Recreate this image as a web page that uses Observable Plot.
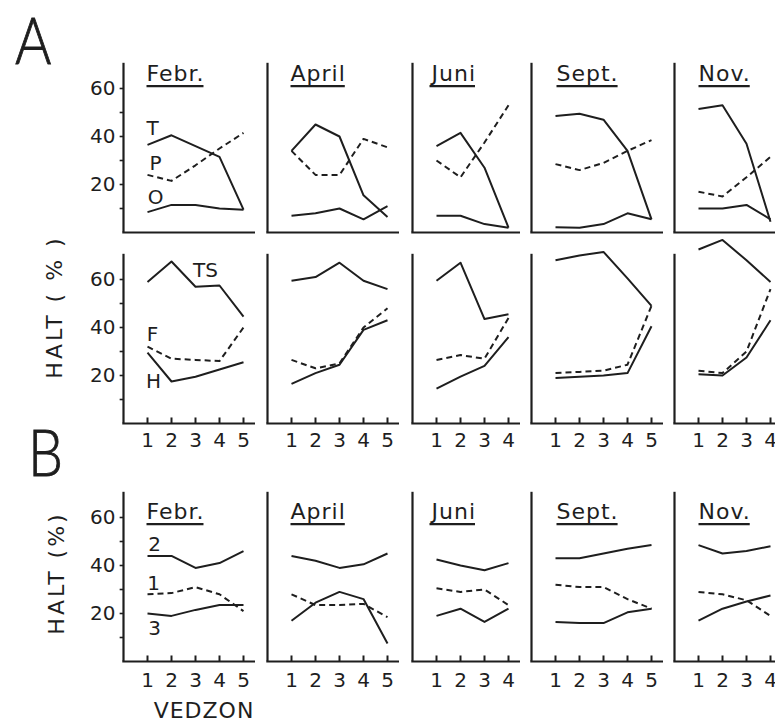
<!DOCTYPE html>
<html><head><meta charset="utf-8">
<script src="https://cdn.jsdelivr.net/npm/d3@7"></script>
<script src="https://cdn.jsdelivr.net/npm/@observablehq/plot@0.6"></script>
<style>
html,body{margin:0;padding:0;background:#fff;overflow:hidden;}
#fig{position:relative;width:775px;height:723px;overflow:hidden;font-family:"DejaVu Sans",sans-serif;color:#1e1e1e;background:#fff;}
.panel{position:absolute;}
.panel svg{overflow:visible;max-width:none;}
.big{position:absolute;font-family:Lato,"DejaVu Sans",sans-serif;font-weight:300;font-size:66px;line-height:66px;width:60px;height:70px;transform-origin:left top;transform:scaleX(0.84);-webkit-text-stroke:0.9px #1e1e1e;}
.ylab{position:absolute;font-size:22px;white-space:nowrap;transform:translate(-50%,-50%) rotate(-90deg);}
.xlab{position:absolute;font-size:22px;line-height:18px;letter-spacing:1px;white-space:nowrap;transform:translate(-50%,-50%);}
</style></head><body><div id="fig"></div>
<script>
// ---- data (values in % per zone) ----
const months = ["Febr.", "April", "Juni", "Sept.", "Nov."];
const zoneCounts = [5, 5, 4, 5, 4];
const yTickValues = [10, 20, 30, 40, 50, 60];
const yTickLabels = [20, 40, 60];
// Panel A, upper row
const T  = [[36.5,40.5,36,31.5,9.5],[34,45,40,15.5,6.5],[36,41.5,27,2],[48.5,49.5,47,34,5.5],[51.5,53,37,4.5]];
const P  = [[24,21.5,28,35,41.5],[34,24,24,39,35.5],[30,23,37.5,53],[28.5,26,29,34,38.5],[17,15,23,31.5]];
const O  = [[8.5,11.5,11.5,10,9.5],[7,8,10,5.5,11],[7,7,3.5,2],[2.2,2,3.5,8,5.5],[10,10,11.5,5.5]];
// Panel A, lower row
const TS = [[59,67.5,57,57.5,44.5],[59.5,61,67,59.5,56],[59.5,67,43.5,45.5],[68,70,71.5,60.5,49],[72.5,76.5,68,59]];
const F  = [[32,27,26.5,26,40],[26.5,23,25,40,48],[26.5,28.5,27,44],[21,21.5,22,24.5,49],[22,21,30,56]];
const H  = [[29.5,17.5,19.5,22.5,25.5],[16.5,21,24.5,39,43],[14.5,19.5,24,36],[19,19.5,20,21,40.5],[20.5,20,27.5,43]];
// Panel B
const S2 = [[44,44,39,41,46],[44,42,39,40.5,45],[42.5,40,38,41],[43,43,45,47,48.5],[48.5,45,46,48]];
const S1 = [[28,28.5,31,28,21],[28,23.5,23.5,24,18.5],[30.5,29,30,23.5],[32,31,31,26,22],[29,28,25.5,19]];
const S3 = [[20,19,21.5,23.5,23.5],[17,24.5,29,26,7.5],[19,22,16.5,22],[16.5,16,16,20.5,22],[17,22,25,27.5]];

// ---- layout ----
const ink = "#1e1e1e";
const panelLeft = [123, 267, 412, 531, 674];
const titleDx = [23, 23, 19, 25, 24];
const rows = [
  {zeroY: 232, title: true, titleDy: 1, xTicks: false, labDy: 0,
   series: [{name: "T", data: T, lab: [0, 5, -16]}, {name: "P", data: P, dash: true, lab: [0, 8, -11]}, {name: "O", data: O, lab: [0, 8, -15]}]},
  {zeroY: 423, title: false, xTicks: true, labDy: 17,
   series: [{name: "TS", data: TS, lab: [2, 10, -16]}, {name: "F", data: F, dash: true, lab: [0, 5, -12]}, {name: "H", data: H, lab: [0, 6, 29]}]},
  {zeroY: 661, title: true, titleDy: 10, xTicks: true, labDy: 19,
   series: [{name: "2", data: S2, lab: [0, 7, -11]}, {name: "1", data: S1, dash: true, lab: [0, 6, -11]}, {name: "3", data: S3, lab: [0, 7, 15]}]}
];

const fig = document.getElementById("fig");
const ML = 45, MR = 4, MT = 30, MB = 36, PX = 24, PY = 2.4, YMAX = 70;

function panel(row, m) {
  const n = zoneCounts[m];
  const zones = d3.range(1, n + 1);
  const xmax = m === 2 ? 4.5 : 5.5;
  const width = ML + MR + xmax * PX;
  const height = MT + MB + YMAX * PY;
  const marks = [
    Plot.ruleX([0], {x: d => d, y1: () => 0, y2: () => 70.5, stroke: ink, strokeWidth: 2.2}),
    Plot.ruleY([0], {y: d => d, x1: () => -0.03, x2: () => xmax, stroke: ink, strokeWidth: 2.2})
  ];
  if (m === 0) {
    marks.push(Plot.ruleY(yTickValues, {y: d => d, x1: () => -0.14, x2: () => 0, stroke: ink, strokeWidth: 1.6}));
    marks.push(Plot.text(yTickLabels, {x: () => 0, y: d => d, text: d => String(d), textAnchor: "end", dx: -8, fontSize: 20}));
  }
  if (row.xTicks) {
    marks.push(Plot.ruleX(zones, {x: d => d, y1: () => 0, y2: () => 2.3, stroke: ink, strokeWidth: 2}));
    marks.push(Plot.text(zones, {x: d => d, y: () => 0, dy: row.labDy, text: d => String(d), fontSize: 20}));
  }
  for (const s of row.series) {
    const pts = zones.map((z, i) => ({zone: z, value: s.data[m][i]}));
    marks.push(Plot.line(pts, {x: "zone", y: "value", stroke: ink, strokeWidth: 2,
      strokeDasharray: s.dash ? "6,4" : null, strokeLinejoin: "round", strokeLinecap: "butt"}));
    if (m === 0) {
      const [k, dx, dy] = s.lab;
      marks.push(Plot.text([pts[k]], {x: "zone", y: "value", text: () => s.name, dx, dy, fontSize: 20}));
    }
  }
  if (row.title) {
    marks.push(Plot.text([months[m]], {frameAnchor: "top-left", text: d => d, dx: titleDx[m], dy: row.titleDy,
      textAnchor: "start", lineAnchor: "top", fontSize: 22}));
  }
  const svg = Plot.plot({
    width, height, marginLeft: ML, marginRight: MR, marginTop: MT, marginBottom: MB,
    x: {domain: [0, xmax], axis: null},
    y: {domain: [0, YMAX], axis: null},
    style: {background: "transparent", overflow: "visible", color: ink, fontFamily: "DejaVu Sans, sans-serif", fontSize: "20px", maxWidth: "none"},
    marks
  });
  const div = document.createElement("div");
  div.className = "panel";
  div.style.left = (panelLeft[m] - ML) + "px";
  div.style.top = (row.zeroY - YMAX * PY - MT) + "px";
  div.appendChild(svg);
  fig.appendChild(div);
  // underline the month title (measured from the rendered text)
  d3.select(svg).selectAll("text")
    .filter(function () { return months.includes(this.textContent); })
    .each(function () {
      this.style.letterSpacing = "1px";
      const b = this.getBBox();
      const ctm = this.getCTM(), root = svg.getCTM();
      const ox = ctm.e - root.e, oy = ctm.f - root.f;
      d3.select(svg).append("line")
        .attr("x1", ox + b.x).attr("x2", ox + b.x + b.width - 1)
        .attr("y1", oy + b.y + b.height).attr("y2", oy + b.y + b.height)
        .attr("stroke", ink).attr("stroke-width", 2.4);
    });
}

rows.forEach(row => months.forEach((_, m) => panel(row, m)));

function html(cls, text, left, top, extra) {
  const d = document.createElement("div");
  d.className = cls; d.textContent = text;
  d.style.left = left + "px"; d.style.top = top + "px";
  if (extra) Object.assign(d.style, extra);
  fig.appendChild(d);
}
html("big", "A", 15, 6);
html("big", "B", 28, 418);
html("ylab", "HALT ( % )", 54, 307, {letterSpacing: "3px"});
html("ylab", "HALT (%)", 56, 573, {letterSpacing: "3px"});
html("xlab", "VEDZON", 204, 711);
</script></body></html>
